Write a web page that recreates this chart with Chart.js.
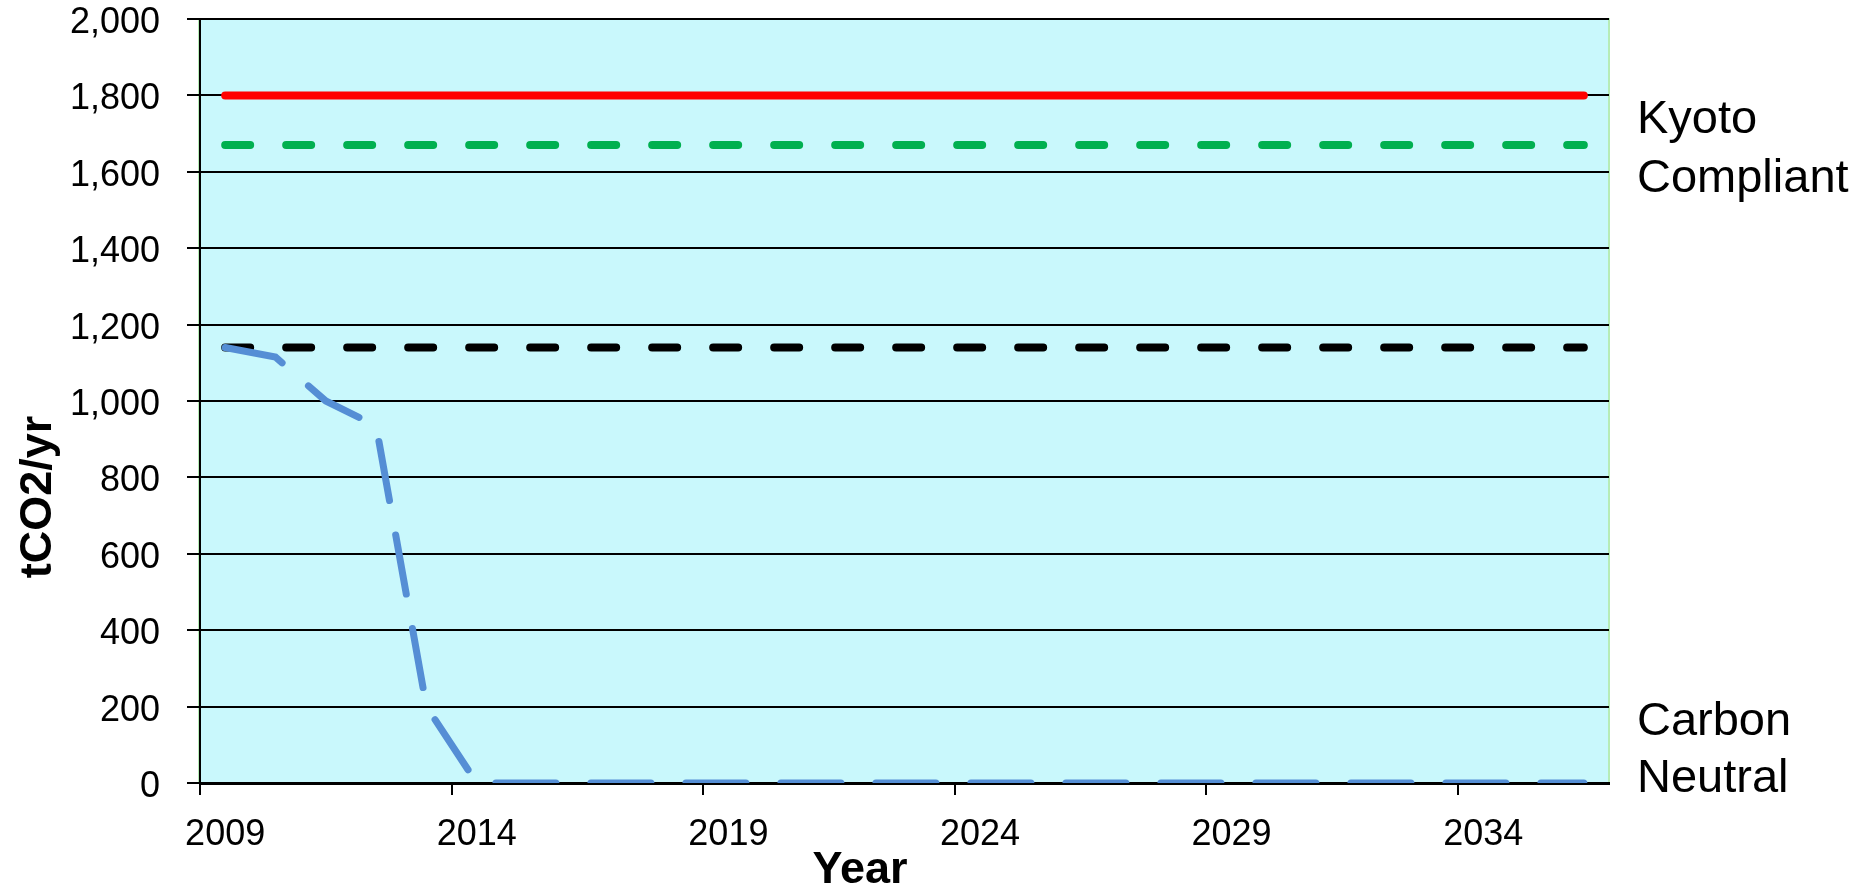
<!DOCTYPE html>
<html>
<head>
<meta charset="utf-8">
<script src="https://cdn.jsdelivr.net/npm/chart.js@4/dist/chart.umd.min.js"></script>
<style>
  body { margin: 0; background: #fff; }
  canvas { display: block; }
</style>
</head>
<body>
<canvas id="co2" width="1872" height="889"></canvas>
<script>
// years on the category axis
var years = [];
for (let y = 2009; y <= 2036; y++) years.push(String(y));

// series values, tCO2/yr
var kyotoLimit = [1800, 1800, 1800, 1800, 1800, 1800, 1800, 1800, 1800, 1800, 1800, 1800, 1800, 1800,
                  1800, 1800, 1800, 1800, 1800, 1800, 1800, 1800, 1800, 1800, 1800, 1800, 1800, 1800];
var kyotoTarget = [1670, 1670, 1670, 1670, 1670, 1670, 1670, 1670, 1670, 1670, 1670, 1670, 1670, 1670,
                   1670, 1670, 1670, 1670, 1670, 1670, 1670, 1670, 1670, 1670, 1670, 1670, 1670, 1670];
var baseline = [1140, 1140, 1140, 1140, 1140, 1140, 1140, 1140, 1140, 1140, 1140, 1140, 1140, 1140,
                1140, 1140, 1140, 1140, 1140, 1140, 1140, 1140, 1140, 1140, 1140, 1140, 1140, 1140];
var plan = [1140, 1115, 1000, 935, 200, 0, 0, 0, 0, 0, 0, 0, 0, 0,
            0, 0, 0, 0, 0, 0, 0, 0, 0, 0, 0, 0, 0, 0];

var yTicks = [0, 200, 400, 600, 800, 1000, 1200, 1400, 1600, 1800, 2000];

var FONT = "'Liberation Sans', Arial, sans-serif";

// cyan plot background with the thin green frame
var plotBg = {
  id: "plotBg",
  beforeDraw(chart) {
    var a = chart.chartArea, c = chart.ctx;
    c.save();
    c.fillStyle = "#c9f8fc";
    c.fillRect(a.left, a.top, a.right - a.left, a.bottom - a.top);
    c.strokeStyle = "#b6ecb6";
    c.lineWidth = 2;
    c.strokeRect(a.left - 1, a.top, a.right - a.left + 1, a.bottom - a.top);
    c.restore();
  },
};

// side notes and axis titles
var notes = {
  id: "notes",
  afterDraw(chart) {
    var c = chart.ctx;
    c.save();
    c.fillStyle = "#000";
    c.textAlign = "left";
    c.textBaseline = "alphabetic";
    c.font = "47px " + FONT;
    c.fillText("Kyoto", 1637, 133);
    c.fillText("Compliant", 1637, 192);
    c.fillText("Carbon", 1637, 735);
    c.fillText("Neutral", 1637, 792);

    c.font = "bold 45px " + FONT;
    c.textAlign = "center";
    c.fillText("Year", 860, 883);

    c.translate(51, 497);
    c.rotate(-Math.PI / 2);
    c.fillText("tCO2/yr", 0, 0);
    c.restore();
  },
};

var chart = new Chart(document.getElementById("co2"), {
  type: "line",
  data: {
    labels: years,
    datasets: [
      {
        label: "Plan",
        data: plan,
        borderColor: "#558ed5",
        borderWidth: 7,
        borderDash: [60, 35],
        borderCapStyle: "round",
        pointRadius: 0,
        tension: 0,
        clip: 0,
      },
      {
        label: "Baseline",
        data: baseline,
        borderColor: "#000000",
        borderWidth: 8,
        borderDash: [25, 36],
        borderCapStyle: "round",
        pointRadius: 0,
      },
      {
        label: "Kyoto target",
        data: kyotoTarget,
        borderColor: "#00b050",
        borderWidth: 8,
        borderDash: [25, 36],
        borderCapStyle: "round",
        pointRadius: 0,
      },
      {
        label: "Kyoto limit",
        data: kyotoLimit,
        borderColor: "#ff0000",
        borderWidth: 8,
        borderCapStyle: "round",
        pointRadius: 0,
      },
    ],
  },
  options: {
    responsive: false,
    animation: false,
    devicePixelRatio: 1,
    layout: { padding: { left: 0, top: 19, right: 263, bottom: 0 } },
    plugins: {
      legend: { display: false },
      tooltip: { enabled: false },
      title: { display: false },
    },
    scales: {
      x: {
        type: "category",
        offset: true,
        z: 1,
        afterFit: (s) => {
          s.height = 106;
          s.paddingLeft = 0;
          s.paddingRight = 0;
        },
        border: { display: true, color: "#000", width: 3 },
        grid: {
          offset: true,
          drawOnChartArea: false,
          drawTicks: true,
          tickLength: 12,
          lineWidth: 2,
          color: (ctx) => (ctx.index % 5 === 0 ? "#000" : "rgba(0,0,0,0)"),
        },
        ticks: {
          autoSkip: false,
          maxRotation: 0,
          padding: 18,
          color: "#000",
          font: { family: FONT, size: 36 },
          callback: function (val, i) {
            return i % 5 === 0 ? years[i] : "";
          },
        },
      },
      y: {
        min: 0,
        max: 2000,
        afterFit: (s) => {
          s.width = 200;
          s.paddingTop = 0;
          s.paddingBottom = 0;
        },
        afterBuildTicks: (s) => { s.ticks = yTicks.map((v) => ({ value: v })); },
        border: { display: true, color: "#000", width: 2 },
        grid: {
          color: "#000",
          lineWidth: 2,
          tickLength: 13,
          drawTicks: true,
        },
        ticks: {
          padding: 27,
          labelOffset: 4,
          color: "#000",
          font: { family: FONT, size: 36 },
          callback: (v) => v.toLocaleString("en-US"),
        },
      },
    },
  },
  plugins: [plotBg, notes],
});
</script>
</body>
</html>
